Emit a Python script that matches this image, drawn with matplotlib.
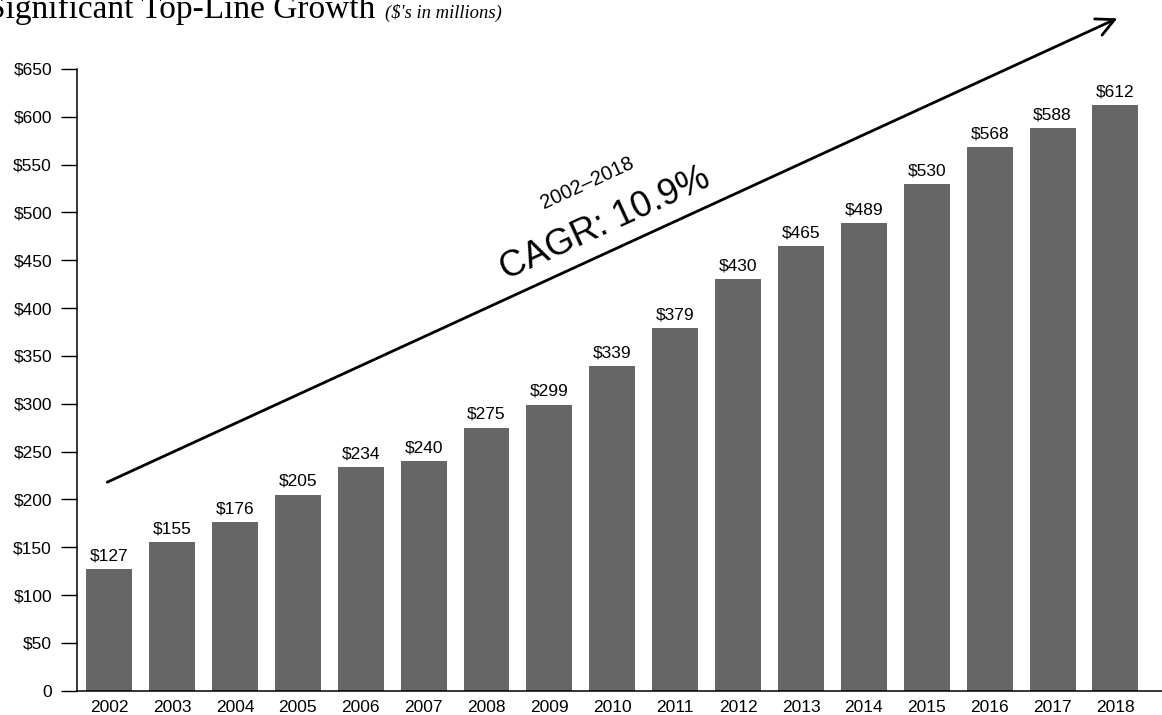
import matplotlib.pyplot as plt

years = [str(y) for y in range(2002, 2019)]
revenue = [127, 155, 176, 205, 234, 240, 275, 299, 339, 379, 430, 465, 489, 530, 568, 588, 612]
y_ticks = list(range(0, 651, 50))
y_labels = ['0'] + ['$%d' % v for v in y_ticks[1:]]

plt.rcParams['font.family'] = ['Liberation Sans', 'DejaVu Sans']

fig = plt.figure(figsize=(11.62, 7.15), dpi=100)
ax = fig.add_axes([0.0663, 0.034, 0.9337, 0.8695])

x = list(range(len(years)))
ax.bar(x, revenue, width=0.73, color='#666666', zorder=2)
for xi, v in zip(x, revenue):
    ax.text(xi, v + 6, '$%d' % v, ha='center', va='bottom', fontsize=12.5)

ax.set_xlim(-0.51, 16.74)
ax.set_ylim(0, 650)
ax.set_xticks(x)
ax.set_xticklabels(years, fontsize=12.5)
ax.set_yticks(y_ticks)
ax.set_yticklabels(y_labels, fontsize=12.5)
ax.tick_params(axis='x', length=0, pad=6.5)
ax.tick_params(axis='y', length=11.5, width=1, pad=6.5)
for side in ['top', 'right']:
    ax.spines[side].set_visible(False)
for side in ['left', 'bottom']:
    ax.spines[side].set_linewidth(1.1)

# growth arrow with CAGR callout
ax.annotate('', xy=(16.03, 703), xytext=(-0.03, 218),
            arrowprops=dict(arrowstyle='->', lw=2, color='black',
                            mutation_scale=32, shrinkA=0, shrinkB=0),
            annotation_clip=False)
ax.text(7.88, 488, 'CAGR: 10.9%', rotation=24.7, ha='center', va='center',
        fontsize=26, rotation_mode='anchor')
ax.text(7.6, 531, '2002\u20132018', rotation=24.7, ha='center', va='center',
        fontsize=14.5, rotation_mode='anchor')

fig.text(-0.0112, 0.9748, 'Significant Top-Line Growth', fontsize=24,
         family='Liberation Serif', ha='left', va='baseline')
fig.text(385 / 1162, 0.9748, "($'s in millions)", fontsize=13.4,
         family='Liberation Serif', style='italic', ha='left', va='baseline')

fig.savefig('out.png', dpi=100)
